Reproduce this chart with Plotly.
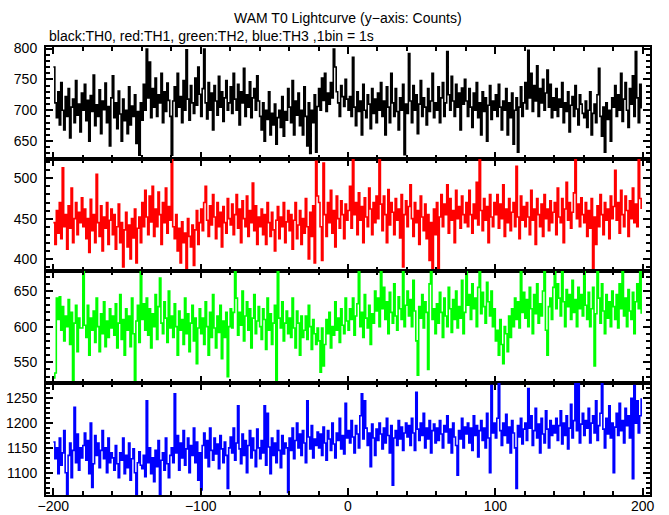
import plotly.graph_objects as go
from plotly.subplots import make_subplots

time_s = list(range(-200, 200))

th0 = [
    770, 712, 688, 730, 676, 745, 700, 668, 722, 690, 735, 655, 705, 718, 680, 748, 692, 710, 665, 728,
    700, 742, 683, 716, 650, 724, 698, 757, 675, 709, 690, 733, 662, 715, 701, 744, 680, 706, 642, 720,
    756, 688, 712, 670, 731, 694, 650, 718, 683, 700, 662, 738, 676, 707, 690, 725, 646, 698, 627, 712,
    684, 742, 700, 799, 720, 778, 688, 735, 705, 752, 690, 725, 712, 760, 680, 730, 698, 744, 716, 690,
    627, 715, 738, 690, 760, 705, 722, 680, 748, 700, 798, 718, 684, 740, 712, 695, 752, 708, 770, 726,
    690, 735, 799, 712, 686, 745, 700, 728, 668, 740, 715, 692, 755, 705, 730, 682, 720, 748, 700, 712,
    738, 695, 760, 718, 700, 742, 676, 730, 712, 768, 690, 725, 705, 746, 688, 720, 735, 700, 756, 715,
    690, 668, 712, 650, 700, 685, 730, 660, 695, 676, 710, 645, 688, 700, 672, 722, 658, 698, 684, 735,
    705, 680, 748, 660, 715, 692, 728, 675, 700, 660, 738, 690, 642, 712, 630, 700, 680, 725, 632, 706,
    735, 700, 752, 716, 760, 698, 728, 710, 745, 720, 799, 770, 730, 712, 690, 740, 722, 706, 750, 718,
    700, 722, 690, 786, 705, 675, 730, 698, 715, 660, 742, 700, 688, 725, 710, 670, 735, 695, 718, 680,
    728, 700, 745, 690, 715, 660, 738, 705, 680, 760, 712, 690, 735, 698, 668, 720, 700, 742, 628, 710,
    695, 792, 715, 680, 740, 700, 725, 662, 710, 748, 690, 720, 705, 676, 735, 698, 715, 760, 688, 712,
    700, 738, 680, 720, 745, 690, 712, 795, 725, 700, 755, 715, 690, 742, 705, 728, 668, 736, 710, 750,
    715, 690, 735, 705, 672, 728, 700, 745, 688, 712, 660, 730, 698, 720, 650, 708, 740, 685, 715, 700,
    725, 690, 742, 705, 668, 715, 700, 735, 660, 712, 688, 728, 645, 700, 720, 632, 705, 738, 690, 712,
    745, 702, 797, 720, 760, 698, 740, 715, 772, 690, 735, 712, 750, 700, 728, 765, 705, 742, 688, 720,
    700, 735, 690, 718, 705, 745, 680, 712, 698, 730, 665, 708, 722, 690, 740, 702, 676, 725, 710, 695,
    688, 715, 672, 700, 730, 660, 695, 710, 680, 725, 768, 690, 658, 705, 632, 712, 685, 700, 650, 720,
    705, 740, 690, 725, 700, 760, 682, 718, 745, 700, 672, 735, 710, 756, 690, 795, 720, 680, 742, 703,
]

th1 = [
    445, 418, 460, 432, 470, 425, 513, 440, 455, 412, 466, 438, 488, 420, 450, 470, 430, 458, 445, 476,
    440, 462, 425, 450, 408, 474, 435, 455, 420, 505, 445, 428, 466, 410, 452, 438, 470, 418, 448, 462,
    430, 455, 412, 440, 468, 420, 445, 390, 436, 458, 415, 442, 400, 450, 426, 462, 395, 438, 452, 420,
    470, 440, 485, 452, 430, 478, 446, 490, 428, 462, 440, 483, 455, 418, 470, 445, 488, 432, 465, 448,
    523, 440, 425, 455, 410, 438, 395, 446, 420, 432, 388, 450, 428, 415, 442, 392, 436, 460, 418, 445,
    462, 435, 470, 490, 448, 428, 466, 442, 480, 452, 425, 470, 440, 458, 415, 465, 445, 432, 475, 450,
    442, 468, 430, 455, 480, 438, 462, 420, 472, 450, 440, 478, 428, 460, 445, 494, 435, 466, 418, 452,
    440, 462, 430, 455, 418, 470, 445, 428, 458, 436, 410, 448, 465, 425, 452, 440, 470, 420, 446, 460,
    435, 455, 412, 448, 470, 425, 442, 460, 418, 450, 432, 475, 440, 400, 458, 428, 466, 395, 521, 478,
    470, 440, 398, 519, 455, 428, 470, 445, 485, 432, 460, 415, 478, 450, 438, 472, 455, 425, 468, 448,
    460, 490, 438, 523, 455, 470, 430, 482, 448, 465, 420, 476, 452, 440, 488, 462, 430, 470, 445, 478,
    450, 523, 468, 435, 478, 455, 420, 486, 442, 470, 458, 430, 475, 448, 462, 426, 480, 390, 455, 472,
    440, 465, 492, 450, 428, 470, 445, 460, 418, 478, 452, 435, 468, 425, 455, 398, 445, 386, 462, 430,
    470, 388, 452, 480, 440, 468, 455, 492, 432, 475, 448, 460, 420, 485, 450, 465, 438, 478, 455, 445,
    470, 440, 485, 455, 432, 468, 450, 495, 442, 523, 460, 435, 475, 448, 465, 420, 480, 452, 440, 470,
    455, 480, 438, 468, 450, 492, 428, 462, 445, 475, 435, 458, 470, 440, 515, 452, 425, 478, 448, 465,
    440, 470, 452, 430, 485, 448, 462, 418, 475, 455, 440, 468, 428, 480, 450, 462, 435, 472, 445, 458,
    470, 430, 488, 452, 445, 475, 420, 462, 495, 448, 470, 438, 458, 482, 523, 450, 468, 440, 476, 455,
    445, 470, 428, 460, 438, 475, 388, 452, 418, 466, 440, 480, 455, 430, 470, 448, 462, 425, 478, 450,
    465, 510, 448, 470, 432, 485, 455, 440, 478, 460, 428, 472, 450, 488, 445, 468, 440, 523, 475, 462,
]

th2 = [
    528, 535, 640, 610, 642, 595, 628, 580, 615, 600, 638, 575, 620, 520, 605, 630, 565, 612, 598, 598,
    677, 602, 585, 630, 560, 612, 595, 622, 578, 640, 600, 565, 618, 590, 635, 572, 608, 585, 625, 598,
    615, 588, 632, 570, 605, 645, 582, 610, 560, 625, 595, 615, 572, 640, 590, 521, 608, 630, 578, 677,
    610, 632, 595, 640, 588, 625, 570, 618, 600, 645, 582, 628, 668, 605, 590, 635, 612, 578, 650, 598,
    615, 585, 632, 600, 560, 622, 595, 610, 575, 640, 590, 618, 565, 605, 630, 580, 612, 548, 598, 625,
    590, 612, 575, 635, 600, 560, 620, 585, 645, 598, 570, 615, 592, 630, 555, 608, 585, 620, 530, 600,
    625, 598, 620, 677, 640, 588, 620, 602, 650, 580, 615, 635, 595, 625, 570, 612, 645, 590, 608, 628,
    600, 582, 625, 610, 568, 640, 595, 618, 575, 605, 630, 521, 677, 612, 598, 635, 580, 605, 622, 590,
    612, 585, 640, 598, 570, 622, 605, 560, 615, 585, 595, 615, 582, 630, 600, 568, 610, 590, 575, 598,
    580, 536, 598, 545, 575, 610, 590, 620, 570, 600, 588, 635, 595, 612, 578, 625, 602, 590, 640, 608,
    595, 625, 610, 640, 588, 615, 632, 677, 600, 620, 585, 645, 612, 598, 630, 575, 618, 605, 650, 622,
    640, 600, 677, 625, 655, 610, 635, 590, 648, 620, 605, 660, 615, 595, 642, 625, 610, 677, 600, 630,
    650, 615, 638, 600, 665, 622, 580, 532, 628, 612, 645, 598, 635, 620, 540, 660, 677, 610, 625, 590,
    632, 605, 648, 620, 585, 640, 615, 600, 655, 625, 592, 638, 610, 650, 598, 628, 612, 665, 590, 620,
    677, 630, 645, 610, 660, 625, 640, 600, 655, 677, 618, 648, 628, 605, 662, 635, 615, 650, 600, 625,
    580, 595, 560, 610, 575, 548, 600, 590, 565, 615, 585, 625, 600, 640, 610, 635, 598, 677, 620, 648,
    612, 638, 600, 655, 625, 590, 645, 618, 660, 605, 632, 615, 650, 677, 595, 560, 628, 640, 610, 655,
    677, 625, 660, 640, 615, 677, 635, 600, 652, 628, 645, 610, 665, 620, 638, 600, 655, 625, 645, 615,
    677, 630, 610, 648, 600, 625, 655, 545, 618, 677, 640, 605, 660, 622, 590, 645, 612, 635, 600, 650,
    628, 610, 645, 598, 660, 625, 677, 615, 640, 600, 652, 622, 610, 648, 590, 635, 660, 625, 677, 618,
]

th3 = [
    1162, 1128, 1150, 1098, 1170, 1115, 1140, 1185, 1100, 1055, 1135, 1160, 1090, 1145, 1232, 1120, 1178, 1105, 1150, 1130,
    1155, 1180, 1125, 1165, 1098, 1200, 1070, 1118, 1175, 1135, 1160, 1110, 1145, 1185, 1128, 1150, 1100, 1170, 1120, 1140,
    1130, 1105, 1155, 1118, 1090, 1140, 1125, 1170, 1098, 1135, 1110, 1160, 1085, 1128, 1148, 1100, 1055, 1120, 1142, 1115,
    1108, 1135, 1092, 1245, 1120, 1150, 1098, 1130, 1082, 1145, 1112, 1165, 1055, 1125, 1140, 1105, 1170, 1118, 1090, 1135,
    1150, 1120, 1259, 1140, 1175, 1105, 1160, 1130, 1185, 1115, 1148, 1170, 1100, 1155, 1135, 1190, 1120, 1162, 1085, 1140,
    1065, 1155, 1180, 1130, 1165, 1112, 1190, 1145, 1125, 1170, 1138, 1158, 1108, 1175, 1148, 1120, 1162, 1135, 1068, 1150,
    1172, 1140, 1190, 1125, 1160, 1235, 1148, 1118, 1178, 1135, 1165, 1100, 1155, 1185, 1130, 1170, 1145, 1112, 1188, 1150,
    1128, 1165, 1140, 1235, 1115, 1220, 1152, 1098, 1170, 1135, 1160, 1120, 1185, 1145, 1110, 1175, 1138, 1160, 1150, 1060,
    1170, 1145, 1190, 1128, 1165, 1200, 1150, 1178, 1135, 1185, 1160, 1120, 1245, 1172, 1148, 1195, 1130, 1168, 1155, 1182,
    1150, 1178, 1135, 1192, 1160, 1125, 1185, 1168, 1145, 1200, 1158, 1130, 1180, 1165, 1210, 1148, 1175, 1138, 1240, 1170,
    1185, 1160, 1205, 1172, 1140, 1195, 1178, 1150, 1215, 1259, 1168, 1245, 1190, 1155, 1180, 1112, 1198, 1170, 1135, 1188,
    1165, 1200, 1178, 1148, 1190, 1160, 1210, 1175, 1140, 1195, 1075, 1170, 1185, 1155, 1205, 1168, 1192, 1145, 1180, 1200,
    1172, 1195, 1155, 1210, 1180, 1145, 1262, 1188, 1165, 1200, 1175, 1220, 1150, 1190, 1168, 1205, 1140, 1185, 1198, 1160,
    1190, 1165, 1205, 1178, 1150, 1195, 1182, 1215, 1160, 1188, 1140, 1200, 1172, 1155, 1095, 1185, 1168, 1210, 1150, 1192,
    1178, 1200, 1160, 1190, 1145, 1215, 1175, 1195, 1132, 1185, 1205, 1165, 1190, 1150, 1220, 1170, 1100, 1276, 1180, 1200,
    1170, 1210, 1283, 1185, 1155, 1200, 1175, 1218, 1160, 1192, 1140, 1205, 1180, 1150, 1068, 1195, 1172, 1210, 1158, 1188,
    1200, 1165, 1270, 1190, 1215, 1155, 1185, 1230, 1170, 1198, 1140, 1210, 1178, 1160, 1225, 1188, 1150, 1205, 1175, 1195,
    1180, 1210, 1165, 1195, 1225, 1158, 1200, 1175, 1215, 1148, 1190, 1238, 1170, 1205, 1280, 1185, 1280, 1160, 1198, 1220,
    1175, 1205, 1190, 1230, 1160, 1200, 1215, 1180, 1245, 1165, 1195, 1220, 1280, 1188, 1150, 1210, 1178, 1235, 1170, 1200,
    1100, 1192, 1220, 1175, 1240, 1185, 1205, 1160, 1230, 1195, 1215, 1170, 1250, 1088, 1276, 1200, 1245, 1180, 1215, 1250,
]

series = [th0, th1, th2, th3]
colors = ["#000000", "#ff0000", "#00ff00", "#0000ff"]
names = ["TH0", "TH1", "TH2", "TH3"]
y_ranges = [[621, 802.5], [385, 524], [521, 678], [1055, 1281]]

x_ticks = [-200, -100, 0, 100, 200]

fig = make_subplots(rows=4, cols=1, shared_xaxes=True, vertical_spacing=0)

for i, (vals, col, nm) in enumerate(zip(series, colors, names)):
    fig.add_trace(
        go.Scatter(x=time_s, y=vals, mode="lines", line=dict(color=col, width=1.6, shape="hv"),
                   name=nm, showlegend=False),
        row=i + 1, col=1,
    )
    fig.update_yaxes(
        range=y_ranges[i], dtick=50, tick0=0, ticks="inside", ticklen=7, tickwidth=2, tickcolor="black",
        minor=dict(dtick=10, ticklen=4, tickwidth=1.5, ticks="inside", tickcolor="black"),
        showline=True, linewidth=2, linecolor="black", mirror="allticks",
        showgrid=False, zeroline=False, tickfont=dict(size=14, color="black"),
        automargin=False, ticklabelstandoff=4,
        row=i + 1, col=1,
    )
    fig.update_xaxes(
        range=[-205, 205], tickvals=x_ticks, ticks="inside", ticklen=7, tickwidth=2, tickcolor="black",
        minor=dict(dtick=20, tick0=0, ticklen=4, tickwidth=1.5, ticks="inside", tickcolor="black"),
        showline=True, linewidth=2, linecolor="black", mirror="allticks",
        showgrid=False, zeroline=False, tickfont=dict(size=14, color="black"),
        showticklabels=(i == 3), automargin=False, ticklabelstandoff=-3,
        row=i + 1, col=1,
    )

fig.update_layout(
    width=669, height=515,
    margin=dict(l=46, r=19, t=47, b=20),
    paper_bgcolor="white", plot_bgcolor="white",
    font=dict(family="Liberation Sans, Arial, Helvetica, sans-serif", size=14, color="black"),
    annotations=[
        dict(text="WAM T0 Lightcurve (y\u2212axis: Counts)", xref="paper", yref="paper",
             x=0.5, y=1.0647, xanchor="center", yanchor="middle", showarrow=False,
             font=dict(size=14, color="black")),
        dict(text="black:TH0, red:TH1, green:TH2, blue:TH3 ,1bin = 1s", xref="paper", yref="paper",
             x=0.002, y=1.0246, xanchor="left", yanchor="middle", showarrow=False,
             font=dict(size=14, color="black")),
    ],
)

fig.write_html(
    "out.html",
    config={"displayModeBar": False},
    post_script="document.body.style.margin='0';document.body.style.overflow='hidden';",
)
